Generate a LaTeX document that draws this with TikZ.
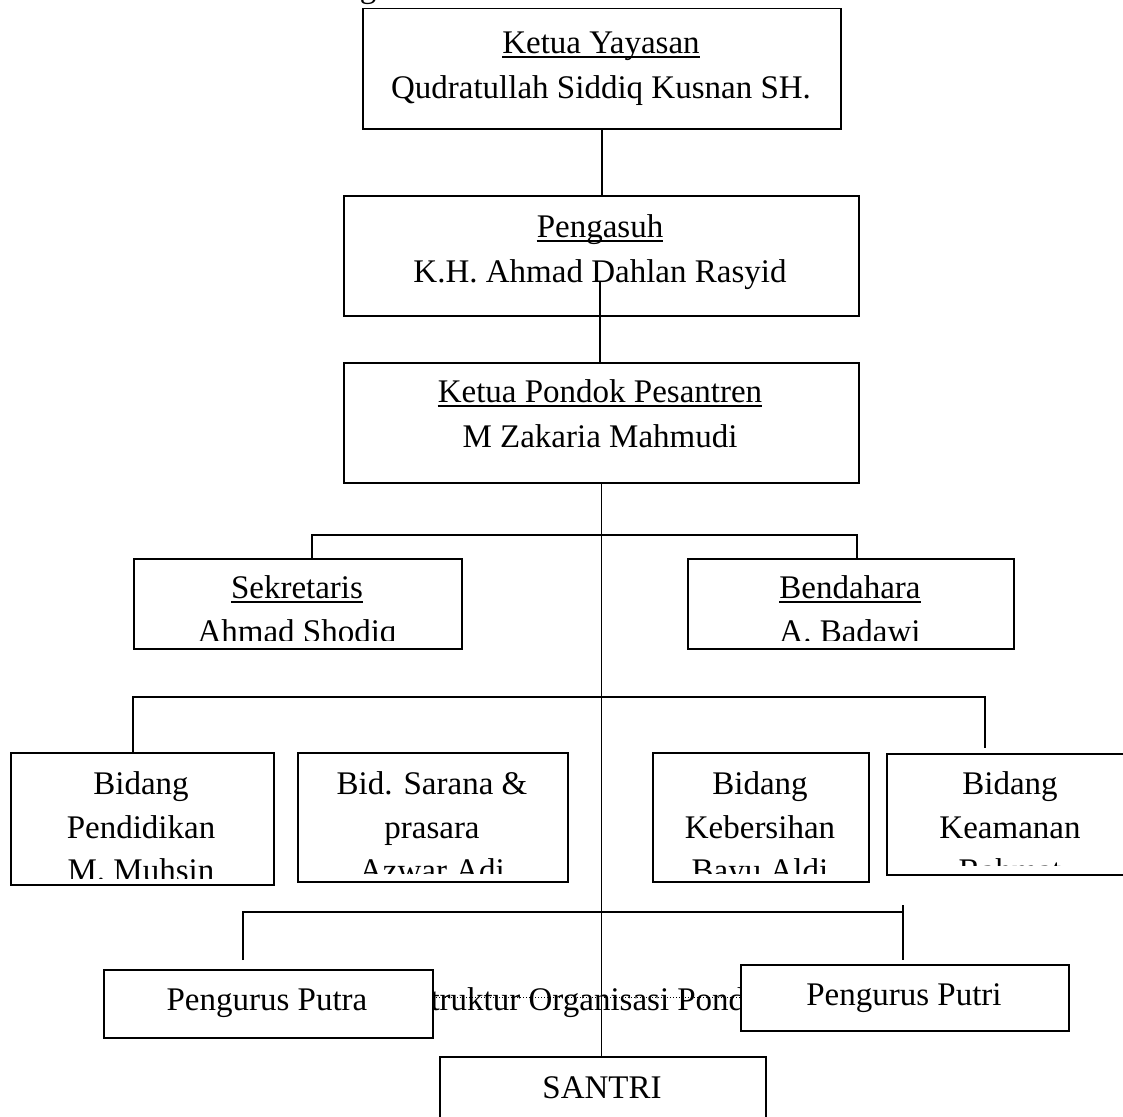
\documentclass[tikz,border=0pt]{standalone}
\usepackage{fontspec}
\setmainfont{Liberation Serif}

\tikzset{
  orgbox/.style={draw, line width=1.5pt, fill=white, anchor=north west, inner sep=0pt},
  orgtext/.style={anchor=base, inner sep=0pt, font=\fontsize{33}{44}\selectfont},
  link/.style={line width=1.5pt},
  garis/.style={line width=1.2pt},
}

\begin{document}
\begin{tikzpicture}[x=1pt, y=-1pt]
\useasboundingbox (0,0) rectangle (1123,1116);
\clip (0,0) rectangle (1123,1116);

% title, cut off at the top
\node[orgtext] (judul) at (368,-2) {g};

% caption lying behind the pengurus boxes
\node[orgtext, anchor=base west] (caption) at (412,1010) {Struktur Organisasi Pondok Pesantren};
\draw[dash pattern=on 1pt off 2pt, line width=1pt] (412,997) -- (760,997);

% boxes
\node[orgbox, minimum width=478, minimum height=120] (yayasan) at (362,8) {};
\node[orgbox, minimum width=515, minimum height=120] (pengasuh) at (343,195) {};
\node[orgbox, minimum width=515, minimum height=120] (pondok) at (343,362) {};
\node[orgbox, minimum width=328, minimum height=90] (sekretaris) at (133,558) {};
\node[orgbox, minimum width=326, minimum height=90] (bendahara) at (687,558) {};
\node[orgbox, minimum width=263, minimum height=132] (pendidikan) at (10,752) {};
\node[orgbox, minimum width=270, minimum height=129] (sarana) at (297,752) {};
\node[orgbox, minimum width=216, minimum height=129] (kebersihan) at (652,752) {};
\node[orgbox, minimum width=250, minimum height=121] (keamanan) at (886,753) {};
\node[orgbox, minimum width=329, minimum height=68] (putra) at (103,969) {};
\node[orgbox, minimum width=328, minimum height=66] (putri) at (740,964) {};
\node[orgbox, minimum width=326, minimum height=80] (santri) at (439,1056) {};

% texts
\node[orgtext] (yayasanT) at (601,53) {Ketua Yayasan};
\node[orgtext] (yayasanN) at (601,98) {Qudratullah Siddiq Kusnan SH.};
\node[orgtext] (pengasuhT) at (600,237) {Pengasuh};
\node[orgtext] (pengasuhN) at (600,282) {K.H. Ahmad Dahlan Rasyid};
\node[orgtext] (pondokT) at (600,402) {Ketua Pondok Pesantren};
\node[orgtext] (pondokN) at (600,447) {M Zakaria Mahmudi};

\begin{scope}
  \clip (sekretaris.north west) rectangle ([yshift=9pt]sekretaris.south east);
  \node[orgtext] (sekretarisT) at (297,598) {Sekretaris};
  \node[orgtext] (sekretarisN) at (297,642) {Ahmad Shodiq};
\end{scope}
\begin{scope}
  \clip (bendahara.north west) rectangle ([yshift=9pt]bendahara.south east);
  \node[orgtext] (bendaharaT) at (850,598) {Bendahara};
  \node[orgtext] (bendaharaN) at (850,642) {A. Badawi};
\end{scope}

\begin{scope}
  \clip (pendidikan.north west) rectangle ([yshift=7pt]pendidikan.south east);
  \node[orgtext] (pendidikan1) at (141,794) {Bidang};
  \node[orgtext] (pendidikan2) at (141,838) {Pendidikan};
  \node[orgtext] (pendidikan3) at (141,881) {M. Muhsin};
\end{scope}
\begin{scope}
  \clip (sarana.north west) rectangle ([yshift=9pt]sarana.south east);
  \node[orgtext] (sarana1) at (432,794) {Bid. Sarana \&};
  \node[orgtext] (sarana2) at (432,838) {prasara};
  \node[orgtext] (sarana3) at (432,881) {Azwar Adi};
\end{scope}
\begin{scope}
  \clip (kebersihan.north west) rectangle ([yshift=9pt]kebersihan.south east);
  \node[orgtext] (kebersihan1) at (760,794) {Bidang};
  \node[orgtext] (kebersihan2) at (760,838) {Kebersihan};
  \node[orgtext] (kebersihan3) at (760,881) {Bayu Aldi};
\end{scope}
\begin{scope}
  \clip (keamanan.north west) rectangle ([yshift=10pt]keamanan.south east);
  \node[orgtext] (keamanan1) at (1010,794) {Bidang};
  \node[orgtext] (keamanan2) at (1010,838) {Keamanan};
  \node[orgtext] (keamanan3) at (1010,881) {Rahmat};
\end{scope}

\node[orgtext] (putraT) at (267,1010) {Pengurus Putra};
\node[orgtext] (putriT) at (904,1005) {Pengurus Putri};
\node[orgtext] (santriT) at (602,1098) {SANTRI};

% underlines
\foreach \t in {yayasanT, pengasuhT, pondokT, sekretarisT, bendaharaT}
  \draw[garis] ([yshift=-4pt]\t.base west) -- ([yshift=-4pt]\t.base east);

% connectors
\coordinate (pengasuh-d) at (600,282);
\draw[link] (yayasan.south) -- (yayasan.south |- pengasuh.north);
\draw[link] (pengasuh-d) -- (pengasuh-d |- pondok.north);
\draw[link] (pondok.south) -- (pondok.south |- santri.north);

\coordinate (cab1-l) at (312,535);
\coordinate (cab1-r) at (857,535);
\draw[link] (cab1-l |- sekretaris.north) -- (cab1-l) -- (cab1-r) -- (cab1-r |- bendahara.north);

\coordinate (cab2-l) at (133,697);
\coordinate (cab2-r) at (985,697);
\coordinate (cab2-e) at (985,748);
\draw[link] (cab2-l |- pendidikan.north) -- (cab2-l) -- (cab2-r) -- (cab2-e);

\coordinate (cab3-l) at (243,912);
\coordinate (cab3-r) at (903,912);
\coordinate (cab3-a) at (243,960);
\coordinate (cab3-t) at (903,905);
\coordinate (cab3-b) at (903,960);
\draw[link] (cab3-a) -- (cab3-l) -- (cab3-r);
\draw[link] (cab3-t) -- (cab3-b);

\end{tikzpicture}
\end{document}
